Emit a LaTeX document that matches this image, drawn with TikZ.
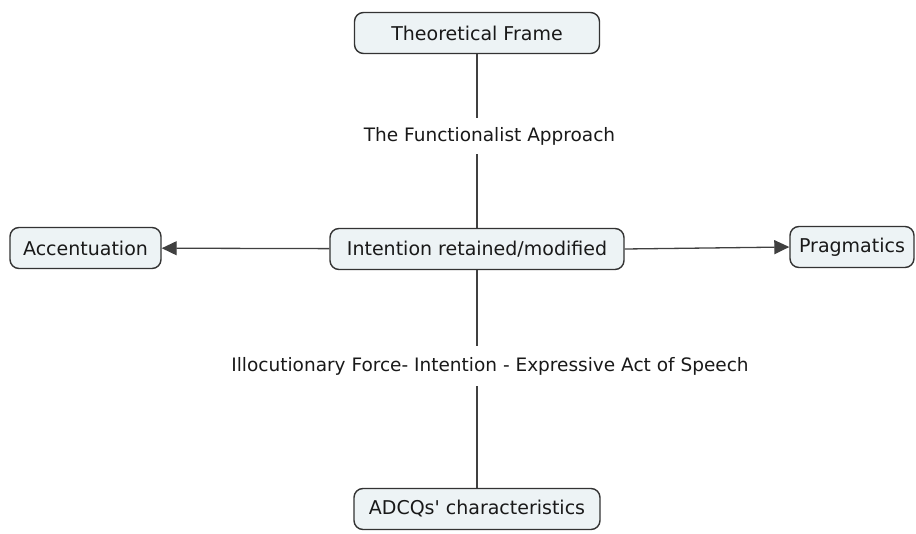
\documentclass[tikz,border=0pt]{standalone}
\usepackage{fontspec}
\setmainfont{DejaVu Sans}
\usetikzlibrary{arrows.meta}
\definecolor{boxfill}{HTML}{EDF3F5}
\definecolor{boxline}{HTML}{333333}
\begin{document}
\begin{tikzpicture}[x=1pt,y=-1pt,
  concept/.style={draw=boxline,fill=boxfill,line width=1.4pt,rounded corners=9pt,
    minimum height=41pt,inner xsep=0pt,font=\fontsize{19}{21}\selectfont,text=black!90},
  linklabel/.style={inner xsep=3pt,inner ysep=9pt,font=\fontsize{18.5}{21}\selectfont,text=black!90},
  link/.style={draw=black!75,line width=1.3pt},
  arrowlink/.style={link,-{Triangle[length=15pt,width=14pt]}}]
  \useasboundingbox (0,0) rectangle (916,533);
  \node[concept,minimum width=245pt] (frame) at (477,33) {Theoretical Frame};
  \node[concept,minimum width=151pt] (accent) at (85.5,248) {Accentuation};
  \node[concept,minimum width=294pt] (intent) at (477,249) {Intention retained/modified};
  \node[concept,minimum width=124pt] (prag) at (852,247) {Pragmatics};
  \node[concept,minimum width=246pt] (adcq) at (477,509) {ADCQs\textquotesingle{} characteristics};
  \node[linklabel] (func) at (489.5,136) {The Functionalist Approach};
  \node[linklabel,inner ysep=11pt] (illoc) at (490,366) {Illocutionary Force- Intention - Expressive Act of Speech};
  \draw[link] (frame) -- (frame |- func.north);
  \draw[link] (intent |- func.south) -- (intent);
  \draw[link] (intent) -- (intent |- illoc.north);
  \draw[link] (adcq |- illoc.south) -- (adcq);
  \draw[arrowlink] (intent) -- (accent);
  \draw[arrowlink] (intent.east) -- (prag.west);
\end{tikzpicture}
\end{document}
